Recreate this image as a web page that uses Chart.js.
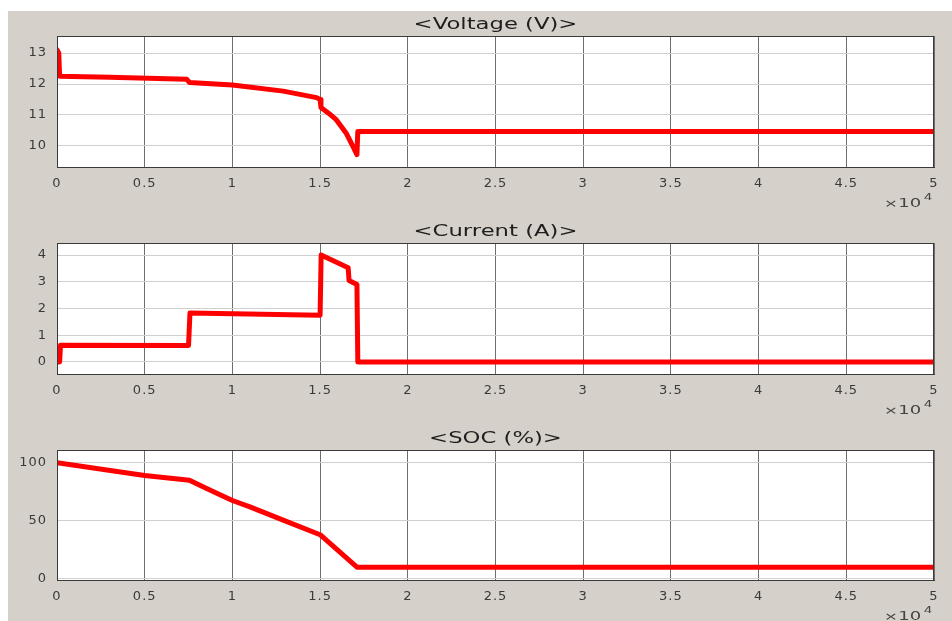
<!DOCTYPE html>
<html>
<head>
<meta charset="utf-8">
<script src="https://cdn.jsdelivr.net/npm/chart.js@4.4.0/dist/chart.umd.min.js"></script>
<style>
  html, body { margin: 0; padding: 0; background: #fff; }
  #bg { position: absolute; left: 8px; top: 11px; width: 944px; height: 610px; background: #d5d1ca; }
  .panel { position: absolute; left: 0; width: 952px; }
</style>
</head>
<body>
<div id="bg"></div>
<div class="panel" style="top:0px;height:210px"><canvas id="c1" width="952" height="210"></canvas></div>
<div class="panel" style="top:210px;height:208px"><canvas id="c2" width="952" height="208"></canvas></div>
<div class="panel" style="top:418px;height:203px"><canvas id="c3" width="952" height="203"></canvas></div>
<script>
// time axis (seconds), labels shown as value / 1e4
const xTicks = [0, 5000, 10000, 15000, 20000, 25000, 30000, 35000, 40000, 45000, 50000];

// voltage (V)
const timeV = [0, 100, 150, 3000, 7400, 7550, 10000, 12900, 14800, 15000, 15050, 15500, 15900, 16500, 16900, 17100, 17150, 50000];
const voltage = [13.1, 13.0, 12.25, 12.22, 12.15, 12.05, 11.97, 11.77, 11.56, 11.5, 11.24, 11.05, 10.86, 10.4, 9.95, 9.72, 10.47, 10.47];
const voltTicks = [10, 11, 12, 13];

// current (A)
const timeI = [0, 150, 200, 7500, 7580, 15000, 15060, 16600, 16650, 17100, 17150, 50000];
const current = [0, 0, 0.63, 0.62, 1.83, 1.75, 4.0, 3.52, 3.05, 2.9, 0, 0];
const currTicks = [0, 1, 2, 3, 4];

// state of charge (%)
const timeS = [0, 5000, 7550, 8500, 10000, 11000, 13000, 15000, 17100, 50000];
const soc = [100, 89, 85, 78, 67.5, 62, 50, 38, 10, 10];
const socTicks = [0, 50, 100];

const font = '"DejaVu Sans", Verdana, sans-serif';

const frame = {
  id: 'frame',
  beforeDraw(chart) {
    const { ctx, chartArea: a } = chart;
    ctx.save();
    ctx.fillStyle = '#fff';
    ctx.fillRect(a.left, a.top, a.right - a.left, a.bottom - a.top);
    ctx.restore();
    // the original text is wide, spread the tick labels a little
    ctx.letterSpacing = '1px';
  },
  afterDraw(chart, args, opts) {
    const { ctx, chartArea: a } = chart;
    ctx.save();
    ctx.letterSpacing = '0px';
    // box round the axes
    ctx.strokeStyle = '#3a3a3a';
    ctx.lineWidth = 1;
    ctx.strokeRect(a.left + 0.5, a.top + 0.5, a.right - a.left - 1, a.bottom - a.top);
    // title, stretched sideways like the source image
    ctx.save();
    ctx.translate((a.left + a.right) / 2, a.top - 11);
    ctx.scale(1.42, 1);
    ctx.fillStyle = '#1e1e1e';
    ctx.font = '16px ' + font;
    ctx.textAlign = 'center';
    ctx.textBaseline = 'middle';
    ctx.fillText(opts.title, 0, 0);
    ctx.restore();
    // x10^4 exponent label
    ctx.translate(a.right - 50, a.bottom + 37);
    ctx.scale(1.5, 1);
    ctx.fillStyle = '#444';
    ctx.textAlign = 'left';
    ctx.textBaseline = 'middle';
    ctx.font = '11px ' + font;
    ctx.fillText('\u00d7', 0, 0);
    ctx.font = '12px ' + font;
    ctx.fillText('10', 9.5, 0);
    ctx.font = '9px ' + font;
    ctx.fillText('4', 26.5, -6);
    ctx.restore();
  }
};

function makePanel(id, title, xs, ys, yMin, yMax, yTicks, padTop, bottomH) {
  const ctx = document.getElementById(id).getContext('2d');
  return new Chart(ctx, {
    type: 'line',
    data: {
      datasets: [{
        data: xs.map((x, i) => ({ x: x, y: ys[i] })),
        borderColor: '#ff0000',
        borderWidth: 5,
        pointRadius: 0,
        fill: false,
        tension: 0,
        borderJoinStyle: 'round',
        borderCapStyle: 'round'
      }]
    },
    options: {
      responsive: false,
      animation: false,
      layout: { padding: { top: padTop, right: 18, left: 0, bottom: 0 } },
      plugins: {
        legend: { display: false },
        tooltip: { enabled: false },
        frame: { title: title }
      },
      scales: {
        x: {
          type: 'linear',
          min: 0,
          max: 50000,
          afterBuildTicks: s => { s.ticks = xTicks.map(v => ({ value: v })); },
          afterFit: s => { s.height = bottomH; },
          grid: { color: '#6e6e6e', drawTicks: false },
          border: { color: '#333' },
          ticks: {
            padding: 9,
            color: '#3a3a3a',
            font: { family: font, size: 13 },
            maxRotation: 0,
            autoSkip: false,
            callback: v => String(v / 10000)
          }
        },
        y: {
          min: yMin,
          max: yMax,
          afterBuildTicks: s => { s.ticks = yTicks.map(v => ({ value: v })); },
          afterFit: s => { s.width = 57; },
          grid: { color: '#d0d0d0', drawTicks: false },
          border: { color: '#333' },
          ticks: {
            padding: 10,
            color: '#3a3a3a',
            font: { family: font, size: 13 }
          }
        }
      }
    },
    plugins: [frame]
  });
}

makePanel('c1', '<Voltage (V)>', timeV, voltage, 9.32, 13.55, voltTicks, 36, 43);
makePanel('c2', '<Current (A)>', timeI, current, -0.45, 4.45, currTicks, 33, 44);
makePanel('c3', '<SOC (%)>', timeS, soc, -1, 111, socTicks, 32, 41);
</script>
</body>
</html>
